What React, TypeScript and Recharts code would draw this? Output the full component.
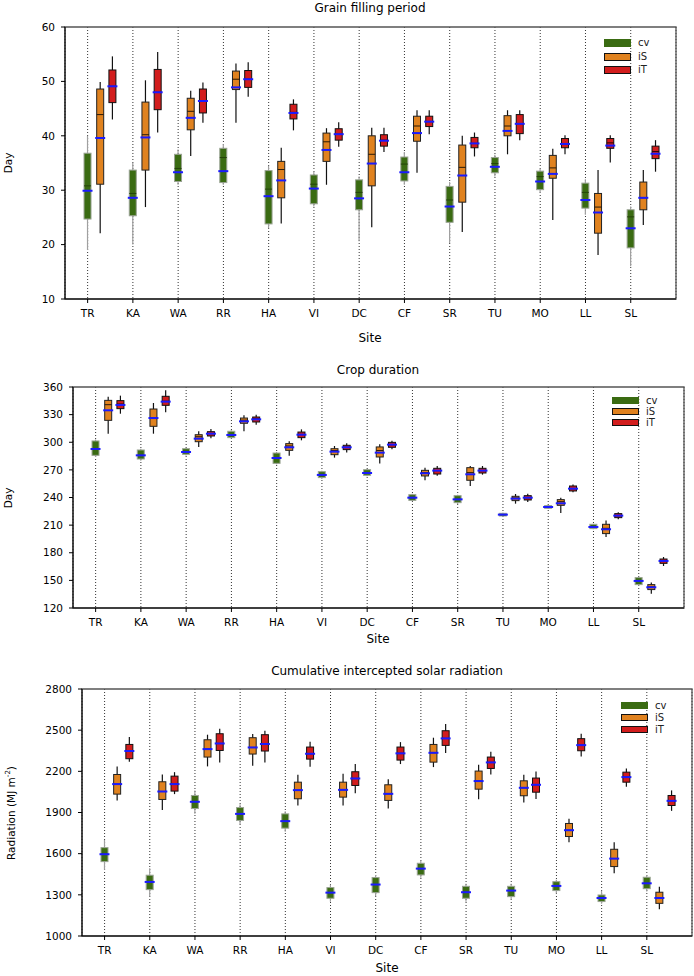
import { ComposedChart, Bar, XAxis, YAxis, CartesianGrid, ReferenceArea } from "recharts"

// [min, q1, median, q3, max, mean]
type Box = [number, number, number, number, number, number]

const SITES = ["TR", "KA", "WA", "RR", "HA", "VI", "DC", "CF", "SR", "TU", "MO", "LL", "SL"]
const SERIES = ["cv", "iS", "iT"]
const OFFSETS = [0, 0.28, 0.55]
const SITE_TICKS = SITES.map((_, i) => i)

// Grain filling period (Day)
const GRAIN_CV: Box[] = [
  [19, 24.7, 30.8, 36.8, 40, 29.9], [20, 25.3, 29.4, 33.7, 35, 28.6], [31, 31.6, 34.0, 36.6, 37.5, 33.3],
  [31, 31.4, 36.0, 37.7, 38.5, 33.5], [23, 23.8, 30.2, 33.6, 34.5, 28.9], [27, 27.5, 31.1, 32.8, 33.5, 30.3],
  [20.6, 26.4, 29.6, 31.9, 32.5, 28.5], [31, 31.7, 34.8, 36.1, 37, 33.3], [20.3, 24.1, 28.2, 30.7, 31.5, 27.0],
  [32.5, 33.2, 34.9, 36.0, 36.5, 34.3], [29.5, 30.1, 32.5, 33.5, 34, 31.6], [25.5, 26.7, 29.6, 31.3, 32, 28.2],
  [16, 19.4, 25.1, 26.4, 27, 23.0],
]
const GRAIN_IS: Box[] = [
  [22.1, 31.1, 43.9, 48.6, 49.9, 39.6], [26.9, 33.7, 40.2, 46.2, 50.2, 39.7], [36.3, 41.1, 44.5, 46.9, 48.3, 43.3],
  [42.4, 48.5, 50.4, 51.9, 53.3, 48.9], [23.9, 28.6, 33.8, 35.3, 37.8, 31.8], [31.0, 35.3, 38.9, 40.5, 41.4, 37.4],
  [23.2, 30.8, 36.6, 40.0, 41.5, 34.9], [33.2, 39.0, 41.8, 43.6, 44.7, 40.5], [22.3, 27.8, 34.2, 38.3, 40.0, 32.7],
  [36.6, 40.0, 41.8, 43.7, 44.7, 40.9], [24.5, 32.2, 34.1, 36.4, 37.6, 33.0], [18.1, 22.1, 26.9, 29.4, 33.7, 25.9],
  [23.6, 26.4, 28.6, 31.5, 33.7, 28.6],
]
const GRAIN_IT: Box[] = [
  [43.0, 46.1, 49.1, 52.1, 54.6, 49.1], [40.6, 44.8, 48.0, 52.2, 55.4, 48.0], [42.4, 44.2, 46.4, 48.6, 49.8, 46.4],
  [47.2, 48.9, 50.4, 52.0, 53.5, 50.4], [41.0, 43.1, 44.3, 45.8, 46.7, 44.2], [38.0, 39.2, 40.3, 41.3, 42.5, 40.3],
  [37.0, 38.1, 39.2, 40.2, 41.5, 39.1], [40.3, 41.7, 42.6, 43.6, 44.7, 42.6], [36.2, 37.8, 38.6, 39.7, 40.6, 38.6],
  [39.2, 40.4, 42.2, 43.9, 44.7, 42.2], [36.6, 37.8, 38.5, 39.5, 40.1, 38.5], [35.1, 37.7, 38.7, 39.5, 40.1, 38.2],
  [33.4, 35.8, 37.1, 38.1, 39.2, 36.7],
]
const GRAIN_TICKS = [10, 20, 30, 40, 50, 60]

// Crop duration (Day)
const CROP_CV: Box[] = [
  [284, 285.8, 292.7, 301.4, 303, 292.7], [280, 281.8, 285.8, 291.6, 293, 285.8], [285.5, 286.9, 289.4, 293.0, 294, 289.4],
  [304, 305.0, 307.9, 311.9, 313, 307.9], [276, 277.1, 282.9, 288.3, 289.5, 282.9], [260, 261.6, 264.5, 268.1, 269, 264.5],
  [263, 264.1, 266.6, 270.2, 271, 266.6], [236, 236.9, 239.8, 243.1, 244, 239.8], [233, 234.4, 238.0, 242.0, 243, 238.0],
  [219, 219.9, 221.4, 222.8, 223.5, 221.4], [227.5, 228.3, 229.7, 231.2, 232, 229.7], [205.5, 206.2, 208.0, 210.9, 211.5, 208.0],
  [144.5, 145.4, 149.4, 153.0, 154, 149.4],
]
const CROP_IS: Box[] = [
  [309.3, 323.8, 340.8, 345.5, 349.5, 334.7], [309.3, 317.3, 326.3, 336.1, 342.6, 326.3], [294.9, 300.6, 306.0, 308.2, 311.9, 303.9],
  [311.9, 320.6, 324.0, 326.3, 329.2, 322.7], [285.4, 291.2, 296.0, 298.5, 301.0, 294.5], [283.3, 286.5, 291.0, 293.0, 295.9, 289.8],
  [276.8, 284.0, 291.0, 294.9, 297.7, 288.7], [258.7, 263.4, 267.0, 269.5, 272.4, 266.3], [252.5, 258.7, 267.0, 272.4, 274.2, 265.2],
  [233.3, 236.6, 239.5, 241.3, 243.8, 238.8], [223.2, 231.5, 235.5, 237.7, 239.8, 233.7], [197.1, 200.8, 206.5, 210.9, 214.9, 205.5],
  [135.6, 140.0, 143.0, 145.4, 147.6, 142.5],
]
const CROP_IT: Box[] = [
  [331.0, 336.5, 341.5, 345.2, 350.6, 340.5], [332.5, 340.1, 344.5, 349.9, 356.4, 344.1], [304.3, 306.8, 309.5, 311.5, 314.4, 309.3],
  [319.1, 322.0, 325.5, 327.4, 330.0, 324.9], [302.1, 305.0, 308.5, 311.1, 314.0, 308.2], [289.0, 292.0, 294.5, 296.7, 299.0, 294.5],
  [292.3, 294.5, 297.4, 299.9, 301.7, 297.4], [263.7, 265.5, 269.2, 271.7, 274.2, 269.2], [264.8, 266.6, 269.2, 271.7, 274.2, 269.2],
  [235.1, 237.3, 239.8, 242.0, 244.2, 239.8], [245.6, 247.1, 249.6, 252.5, 254.0, 249.6], [216.3, 218.1, 220.3, 222.5, 223.9, 220.3],
  [165.6, 168.5, 171.1, 173.2, 175.4, 171.1],
]
const CROP_TICKS = [120, 150, 180, 210, 240, 270, 300, 330, 360]

// Cumulative intercepted solar radiation (MJ m-2)
const RAD_CV: Box[] = [
  [1482, 1542, 1596, 1644, 1700, 1596], [1287, 1338, 1394, 1443, 1494, 1394], [1890, 1929, 1978, 2024, 2060, 1978],
  [1810, 1842, 1890, 1936, 1960, 1890], [1760, 1786, 1837, 1890, 1910, 1837], [1250, 1275, 1316, 1353, 1375, 1316],
  [1290, 1316, 1375, 1426, 1445, 1375], [1425, 1445, 1491, 1530, 1550, 1491], [1250, 1275, 1319, 1362, 1380, 1319],
  [1265, 1287, 1331, 1362, 1380, 1331], [1310, 1331, 1365, 1396, 1410, 1365], [1235, 1251, 1277, 1299, 1330, 1277],
  [1325, 1345, 1384, 1428, 1445, 1384],
]
const RAD_IS: Box[] = [
  [1988, 2034, 2107, 2177, 2236, 2107], [1919, 1995, 2053, 2124, 2177, 2053], [2236, 2304, 2362, 2430, 2467, 2362],
  [2241, 2326, 2374, 2445, 2472, 2374], [1951, 2000, 2063, 2121, 2175, 2063], [1951, 2012, 2065, 2121, 2182, 2065],
  [1929, 1988, 2036, 2102, 2143, 2036], [2231, 2267, 2335, 2396, 2445, 2335], [1997, 2070, 2129, 2202, 2248, 2129],
  [1973, 2022, 2080, 2131, 2175, 2080], [1683, 1725, 1771, 1820, 1854, 1771], [1457, 1506, 1564, 1632, 1684, 1564],
  [1195, 1238, 1277, 1319, 1358, 1277],
]
const RAD_IT: Box[] = [
  [2270, 2292, 2348, 2396, 2450, 2348], [2034, 2056, 2107, 2165, 2194, 2107], [2265, 2352, 2403, 2474, 2511, 2403],
  [2265, 2348, 2399, 2467, 2496, 2399], [2233, 2289, 2328, 2377, 2416, 2328], [2041, 2097, 2148, 2197, 2253, 2148],
  [2253, 2282, 2331, 2377, 2413, 2331], [2333, 2389, 2440, 2496, 2545, 2440], [2177, 2221, 2265, 2304, 2343, 2265],
  [1999, 2048, 2102, 2151, 2199, 2102], [2309, 2350, 2391, 2438, 2474, 2391], [2087, 2121, 2158, 2194, 2221, 2158],
  [1912, 1951, 1985, 2024, 2061, 1985],
]
const RAD_TICKS = [1000, 1300, 1600, 1900, 2200, 2500, 2800]

const FONT = "'DejaVu Sans', sans-serif"
const BOX_W = 7

// fill / outline / whisker / median per series
const STYLES = [
  { fill: "#3a6b12", stroke: "#9aa394", whisker: "#a0a0a0", median: "#24420a" },
  { fill: "#e0821f", stroke: "#222", whisker: "#111", median: "#2a1a08" },
  { fill: "#d21d1d", stroke: "#111", whisker: "#111", median: "#2a0505" },
]

type Row = { x: number; s: number; min: number; q1: number; med: number; q3: number; max: number; mean: number }

function toRows(sets: Box[][]): Row[] {
  const rows: Row[] = []
  sets.forEach((boxes, s) =>
    boxes.forEach(([min, q1, med, q3, max, mean], i) =>
      rows.push({ x: i + OFFSETS[s], s, min, q1, med, q3, max, mean })
    )
  )
  return rows
}

// the bar spans [min, max]; the rest is placed linearly inside that span
const BoxShape = (props: any) => {
  const { x, y, width, height, payload } = props
  const top = Math.min(y, y + height)
  const bot = Math.max(y, y + height)
  const p = payload as Row
  const py = (v: number) => top + ((p.max - v) / (p.max - p.min)) * (bot - top)
  const cx = x + width / 2
  const st = STYLES[p.s]
  return (
    <g>
      <line x1={cx} x2={cx} y1={py(p.max)} y2={py(p.min)} stroke={st.whisker} strokeWidth={1.2} />
      <rect
        x={cx - BOX_W / 2}
        y={py(p.q3)}
        width={BOX_W}
        height={py(p.q1) - py(p.q3)}
        fill={st.fill}
        stroke={st.stroke}
        strokeWidth={1}
      />
      <line x1={cx - BOX_W / 2} x2={cx + BOX_W / 2} y1={py(p.med)} y2={py(p.med)} stroke={st.median} strokeWidth={1} />
      <line x1={cx - BOX_W / 2 - 1.5} x2={cx + BOX_W / 2 + 1.5} y1={py(p.mean)} y2={py(p.mean)} stroke="#1a1aff" strokeWidth={2} />
    </g>
  )
}

type PanelProps = {
  top: number
  height: number
  title: string
  titleX: number
  titleY: number
  yLabel: React.ReactNode
  yLabelX: number
  siteY: number
  legendX: number
  legendY: number
  legendGap: number
  swatchH: number
  margin: { top: number; right: number; bottom: number }
  yWidth: number
  ticks: number[]
  sets: Box[][]
}

const abs = (x: number, y: number, extra: React.CSSProperties = {}): React.CSSProperties => ({
  position: "absolute",
  left: x,
  top: y,
  transform: "translate(-50%, -50%)",
  whiteSpace: "nowrap",
  fontFamily: FONT,
  color: "#000",
  lineHeight: 1,
  ...extra,
})

const Panel = (p: PanelProps) => {
  const rows = toRows(p.sets)
  const yDomain: [number, number] = [p.ticks[0], p.ticks[p.ticks.length - 1]]
  const plotTop = p.margin.top
  const plotBottom = p.height - p.margin.bottom - 30
  const plotMid = (plotTop + plotBottom) / 2
  return (
    <div style={{ position: "absolute", left: 0, top: p.top, width: 694, height: p.height }}>
      <ComposedChart
        width={694}
        height={p.height}
        data={rows}
        margin={{ top: p.margin.top, right: p.margin.right, bottom: p.margin.bottom, left: 0 }}
      >
        <CartesianGrid horizontal={false} stroke="#333" strokeDasharray="1 2" />
        <ReferenceArea x1={-0.5} x2={13} y1={yDomain[0]} y2={yDomain[1]} fill="none" stroke="#555" strokeWidth={1.3} />
        <XAxis
          dataKey="x"
          type="number"
          domain={[-0.5, 13]}
          ticks={SITE_TICKS}
          interval={0}
          tickFormatter={(v) => SITES[v] ?? ""}
          height={30}
          tickSize={4}
          tickMargin={7}
          stroke="#000"
          tick={{ fontSize: 10.5, fill: "#000", fontFamily: FONT }}
        />
        <YAxis
          type="number"
          domain={yDomain}
          ticks={p.ticks}
          interval={0}
          width={p.yWidth}
          tickSize={4}
          tickMargin={6}
          stroke="#000"
          tick={{ fontSize: 10.5, fill: "#000", fontFamily: FONT }}
        />
        <Bar
          dataKey={(d: Row) => [d.min, d.max]}
          barSize={8}
          shape={BoxShape}
          isAnimationActive={false}
        />
      </ComposedChart>
      <div style={abs(p.titleX, p.titleY, { fontSize: 12 })}>{p.title}</div>
      <div style={abs(p.yLabelX, plotMid, { fontSize: 10.5, transform: "translate(-50%, -50%) rotate(-90deg)" })}>
        {p.yLabel}
      </div>
      <div style={abs(p.titleX, p.siteY, { fontSize: 12 })}>Site</div>
      {SERIES.map((name, s) => (
        <div
          key={name}
          style={{
            position: "absolute",
            left: p.legendX,
            top: p.legendY + s * p.legendGap,
            height: p.swatchH,
            display: "flex",
            alignItems: "center",
            fontFamily: FONT,
            fontSize: 10,
            lineHeight: `${p.swatchH}px`,
          }}
        >
          <span
            style={{
              display: "inline-block",
              boxSizing: "border-box",
              width: 27,
              height: p.swatchH,
              background: STYLES[s].fill,
              border: s === 0 ? "none" : "1px solid #111",
              marginRight: 7,
            }}
          />
          <span style={{ color: "#222" }}>{name}</span>
        </div>
      ))}
    </div>
  )
}

export default function App() {
  return (
    <div style={{ position: "absolute", left: 0, top: 0, width: 694, height: 976, background: "#fff" }}>
      <Panel
        top={0}
        height={345}
        title="Grain filling period"
        titleX={370}
        titleY={8}
        yLabel="Day"
        yLabelX={8}
        siteY={338}
        legendX={604}
        legendY={39}
        legendGap={13.5}
        swatchH={8}
        margin={{ top: 27, right: 18, bottom: 16 }}
        yWidth={65}
        ticks={GRAIN_TICKS}
        sets={[GRAIN_CV, GRAIN_IS, GRAIN_IT]}
      />
      <Panel
        top={345}
        height={310}
        title="Crop duration"
        titleX={378}
        titleY={25}
        yLabel="Day"
        yLabelX={8}
        siteY={294}
        legendX={612}
        legendY={52}
        legendGap={11}
        swatchH={7}
        margin={{ top: 42, right: 10, bottom: 17 }}
        yWidth={73}
        ticks={CROP_TICKS}
        sets={[CROP_CV, CROP_IS, CROP_IT]}
      />
      <Panel
        top={655}
        height={321}
        title="Cumulative intercepted solar radiation"
        titleX={387}
        titleY={16}
        yLabel={
          <span>
            Radiation (MJ m<sup style={{ fontSize: 7 }}>-2</sup>)
          </span>
        }
        yLabelX={10}
        siteY={313}
        legendX={621}
        legendY={47}
        legendGap={12}
        swatchH={7}
        margin={{ top: 34, right: 2, bottom: 10 }}
        yWidth={82}
        ticks={RAD_TICKS}
        sets={[RAD_CV, RAD_IS, RAD_IT]}
      />
    </div>
  )
}
